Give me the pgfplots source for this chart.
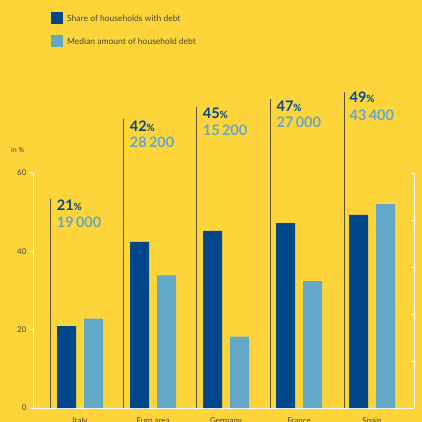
\documentclass[border=0pt]{standalone}
\usepackage{pgfplots}
\pgfplotsset{compat=1.18}
\usepackage{fontspec}
\setmainfont{Lato}
\definecolor{bg}{HTML}{FDD53A}
\definecolor{dblue}{HTML}{00468A}
\definecolor{lblue}{HTML}{64A8C8}
\definecolor{txt}{HTML}{4A4535}
\definecolor{ann}{HTML}{5C4F2E}
\begin{document}
\begin{tikzpicture}[x=1pt,y=1pt]
\useasboundingbox (0pt,0pt) rectangle (422pt,422pt);
\fill[bg] (0pt,0pt) rectangle (422pt,422pt);
\begin{scope}
\clip (0pt,0pt) rectangle (422pt,422pt);
% legend
\fill[dblue] (51pt,398pt) rectangle (63pt,410pt);
\node[anchor=west, inner sep=0, text=txt, font=\fontsize{8.5}{9}\selectfont] at (67pt,404pt) {Share of households with debt};
\fill[lblue] (51pt,375pt) rectangle (63pt,387pt);
\node[anchor=west, inner sep=0, text=txt, font=\fontsize{8.5}{9}\selectfont] at (67pt,381pt) {Median amount of household debt};
\node[anchor=west, inner sep=0, text=txt, font=\fontsize{7}{8}\selectfont] at (11pt,272pt) {in \%};
\begin{axis}[
  at={(33pt,14pt)}, anchor=south west,
  width=381pt, height=235pt, scale only axis,
  xmin=-0.644, xmax=4.575, ymin=0, ymax=60,
  clip=false,
  axis x line*=bottom, axis y line*=left,
  axis line style={white, line width=1pt, -},
  xtick={0,1,2,3,4},
  xticklabels={Italy, Euro area, Germany, France, Spain},
  major x tick style={draw=none},
  ytick={0,20,40,60},
  major y tick style={white, line width=1pt},
  tick align=outside, major tick length=3pt,
  tick label style={font=\fontsize{8}{9}\selectfont, text=txt},
  xticklabel style={yshift=-3pt},
  /pgf/number format/assume math mode=true,
]
\addplot[ybar, bar width=19pt, bar shift=-13.5pt, fill=dblue, draw=none]
  coordinates {(0,20.9) (1,42.4) (2,45.2) (3,47.2) (4,49.3)};
% annotation lines
\draw[ann, line width=0.9pt] (axis cs:-0.4,0) -- (axis cs:-0.4,53.4);
\draw[ann, line width=0.9pt] (axis cs:0.6,0) -- (axis cs:0.6,73.8);
\draw[ann, line width=0.9pt] (axis cs:1.6,0) -- (axis cs:1.6,76.8);
\draw[ann, line width=0.9pt] (axis cs:2.61,0) -- (axis cs:2.61,78.9);
\draw[ann, line width=0.9pt] (axis cs:3.62,0) -- (axis cs:3.62,80.7);
% annotation texts
\tikzset{pct/.style={anchor=base west, inner sep=0, text=dblue, font=\fontsize{14.5}{15}\selectfont\bfseries},
         amt/.style={anchor=base west, inner sep=0, text=lblue, font=\fontsize{14.5}{15}\selectfont\bfseries}}
\node[pct] at (axis cs:-0.32,50.55) {21{\fontsize{10}{10}\selectfont\%}};
\node[amt] at (axis cs:-0.32,46.2) {19\,000};
\node[pct] at (axis cs:0.68,70.7) {42{\fontsize{10}{10}\selectfont\%}};
\node[amt] at (axis cs:0.68,66.4) {28\,200};
\node[pct] at (axis cs:1.68,74.0) {45{\fontsize{10}{10}\selectfont\%}};
\node[amt] at (axis cs:1.68,69.7) {15\,200};
\node[pct] at (axis cs:2.69,75.8) {47{\fontsize{10}{10}\selectfont\%}};
\node[amt] at (axis cs:2.69,71.5) {27\,000};
\node[pct] at (axis cs:3.69,77.9) {49{\fontsize{10}{10}\selectfont\%}};
\node[amt] at (axis cs:3.69,73.5) {43\,400};
\end{axis}
\begin{axis}[
  at={(33pt,14pt)}, anchor=south west,
  width=381pt, height=235pt, scale only axis,
  xmin=-0.644, xmax=4.575, ymin=0, ymax=50000,
  axis x line=none, axis y line*=right,
  axis line style={white, line width=1pt, -},
  ytick={0,10000,20000,30000,40000,50000},
  yticklabels={}, scaled y ticks=false,
  major y tick style={white, line width=1pt},
  tick align=inside, major tick length=3pt,
]
\addplot[ybar, bar width=19pt, bar shift=13.5pt, fill=lblue, draw=none]
  coordinates {(0,19000) (1,28200) (2,15200) (3,27000) (4,43400)};
\end{axis}
\end{scope}
\end{tikzpicture}
\end{document}
